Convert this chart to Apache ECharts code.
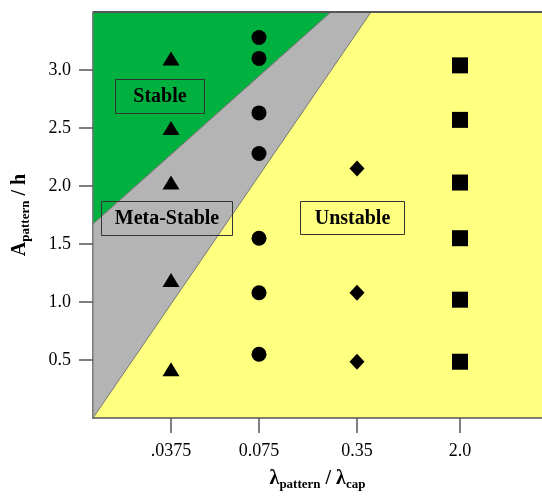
<!DOCTYPE html>
<html><head><meta charset="utf-8">
<script src="https://cdn.jsdelivr.net/npm/echarts@6/dist/echarts.min.js"></script>
<style>html,body{margin:0;padding:0;background:#fff}#c{width:542px;height:497px}</style>
</head><body><div id="c"></div>
<script>
// x axis categories and their positions on the (index-like) axis
var categories = ['.0375', '0.075', '0.35', '2.0'];
var categoryPos = [0.78, 1.66, 2.64, 3.67];
var yTicks = [0.5, 1.0, 1.5, 2.0, 2.5, 3.0];

// A_pattern / h values per λ ratio
var triangleY = [3.10, 2.50, 2.03, 1.19, 0.42];   // .0375
var circleY = [3.28, 3.10, 2.63, 2.28, 1.55, 1.08, 0.55]; // 0.075
var diamondY = [2.15, 1.08, 0.485];               // 0.35
var squareY = [3.04, 2.57, 2.03, 1.55, 1.02, 0.485]; // 2.0

// regime regions (axis coordinates)
var stableRegion = [[0, 3.5], [2.38, 3.5], [0, 1.672]];
var metaRegion = [[0, 1.672], [2.38, 3.5], [2.78, 3.5], [0, 0]];

var font = '"Liberation Serif","Times New Roman",serif';

function pts(pos, ys) { return ys.map(function (y) { return [pos, y]; }); }

function regionSeries(poly, color) {
  return {
    type: 'custom', silent: true, z: 1, clip: true,
    data: [0],
    renderItem: function (params, api) {
      return {
        type: 'polygon',
        shape: { points: poly.map(function (p) { return api.coord(p); }) },
        style: { fill: color, stroke: '#777', lineWidth: 1 }
      };
    }
  };
}

var chart = echarts.init(document.getElementById('c'));
var markerSeries = function (data, symbol, size) {
  return { type: 'scatter', data: data, symbol: symbol, symbolSize: size, z: 5,
    itemStyle: { color: '#000', opacity: 1 } };
};

chart.setOption({
  animation: false,
  backgroundColor: '#fff',
  grid: { left: 93, top: 12, right: 0, bottom: 79, show: true, backgroundColor: '#ffff80', borderWidth: 0 },
  xAxis: {
    type: 'value', min: 0, max: 4.49,
    splitLine: { show: false },
    axisLine: { show: true, onZero: false, lineStyle: { color: '#555', width: 1.5 } },
    axisTick: { show: true, customValues: categoryPos, length: 15, lineStyle: { color: '#555', width: 1.5 } },
    axisLabel: {
      customValues: categoryPos, margin: 24, fontFamily: font, fontSize: 18, color: '#000',
      formatter: function (v) {
        for (var i = 0; i < categoryPos.length; i++) if (Math.abs(categoryPos[i] - v) < 1e-6) return categories[i];
        return '';
      }
    },
    name: '{l|λ}{s|pattern}{l| / λ}{s|cap}',
    nameLocation: 'middle', nameGap: 51,
    nameTextStyle: {
      rich: {
        l: { fontFamily: font, fontWeight: 'bold', fontSize: 20, color: '#000', verticalAlign: 'top', lineHeight: 22 },
        s: { fontFamily: font, fontWeight: 'bold', fontSize: 13, color: '#000', verticalAlign: 'top', padding: [9, 0, 0, 0], lineHeight: 22 }
      }
    }
  },
  yAxis: {
    type: 'value', min: 0, max: 3.5,
    splitLine: { show: false },
    axisLine: { show: true, lineStyle: { color: '#555', width: 1.5 } },
    axisTick: { show: true, customValues: yTicks, length: 14, lineStyle: { color: '#555', width: 1.5 } },
    axisLabel: {
      customValues: yTicks, margin: 22, fontFamily: font, fontSize: 18, color: '#000',
      formatter: function (v) { return v.toFixed(1); }
    },
    name: '{l|A}{s|pattern}{l| / h}',
    nameLocation: 'middle', nameGap: 61, nameRotate: 90,
    nameTextStyle: {
      rich: {
        l: { fontFamily: font, fontWeight: 'bold', fontSize: 20, color: '#000', verticalAlign: 'top', lineHeight: 22 },
        s: { fontFamily: font, fontWeight: 'bold', fontSize: 13, color: '#000', verticalAlign: 'top', padding: [9, 0, 0, 0], lineHeight: 22 }
      }
    }
  },
  series: [
    regionSeries(stableRegion, '#00b140'),
    regionSeries(metaRegion, '#b4b4b4'),
    markerSeries(pts(categoryPos[0], triangleY), 'triangle', [17, 14]),
    markerSeries(pts(categoryPos[1], circleY), 'circle', 15),
    markerSeries(pts(categoryPos[2], diamondY), 'diamond', [15, 16]),
    markerSeries(pts(categoryPos[3], squareY), 'rect', 16)
  ],
  graphic: [
    { type: 'line', z: 10, shape: { x1: 93, y1: 12, x2: 542, y2: 12 }, style: { stroke: '#555', lineWidth: 2 } },
    { type: 'rect', z: 10, shape: { x: 115.5, y: 79.5, width: 89, height: 34 }, style: { fill: 'none', stroke: '#333', lineWidth: 1 } },
    { type: 'text', z: 10, x: 160, y: 97, style: { text: 'Stable', font: 'bold 20px ' + font, fill: '#000', align: 'center', verticalAlign: 'middle' } },
    { type: 'rect', z: 10, shape: { x: 101.5, y: 201.5, width: 131, height: 34 }, style: { fill: 'none', stroke: '#333', lineWidth: 1 } },
    { type: 'text', z: 10, x: 167, y: 219, style: { text: 'Meta-Stable', font: 'bold 20px ' + font, fill: '#000', align: 'center', verticalAlign: 'middle' } },
    { type: 'rect', z: 10, shape: { x: 300.5, y: 201.5, width: 104, height: 33 }, style: { fill: 'none', stroke: '#333', lineWidth: 1 } },
    { type: 'text', z: 10, x: 352.5, y: 218.5, style: { text: 'Unstable', font: 'bold 20px ' + font, fill: '#000', align: 'center', verticalAlign: 'middle' } }
  ]
});
</script></body></html>
